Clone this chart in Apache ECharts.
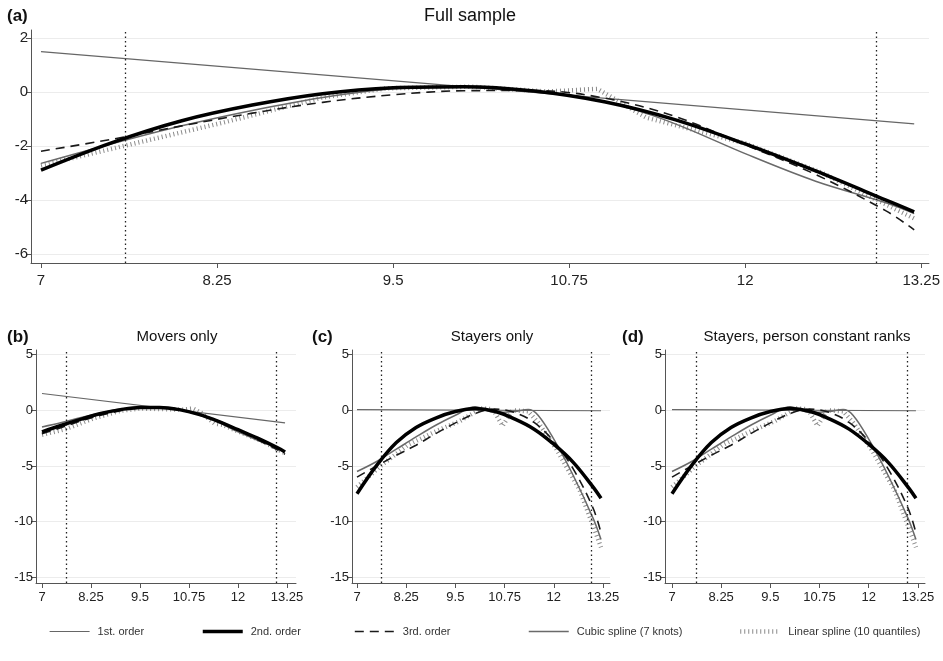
<!DOCTYPE html>
<html>
<head>
<meta charset="utf-8">
<script src="https://cdn.jsdelivr.net/npm/echarts@6/dist/echarts.min.js"></script>
<style>
  html, body { margin: 0; padding: 0; background: #fff; }
  #chart { width: 943px; height: 661px; }
</style>
</head>
<body>
<div id="chart"></div>
<script>
// x grids the curves were read at
var polyX = [7, 7.5, 8, 8.5, 9, 9.5, 10, 10.5, 11, 11.5, 12, 12.5, 13, 13.2];
var splineX = [7, 7.5, 8, 8.5, 9, 9.5, 10, 10.5, 11, 11.35, 11.6, 12, 12.5, 13, 13.2];
var endX = [7, 13.2];

var xTicks = [7, 8.25, 9.5, 10.75, 12, 13.25];
var yTicksTop = [-6, -4, -2, 0, 2];
var yTicksBottom = [-15, -10, -5, 0, 5];

// (a) full sample
var aFirst = [1.5, -1.18];
var aSecond = [-2.89, -1.88, -1.06, -0.48, -0.06, 0.16, 0.20, 0.04, -0.36, -1.02, -1.92, -2.92, -4.0, -4.44];
var aThird = [-2.19, -1.75, -1.25, -0.78, -0.38, -0.10, 0.05, 0.06, -0.22, -0.9, -1.95, -3.05, -4.4, -5.1];
var aCubic = [-2.64, -1.92, -1.25, -0.68, -0.2, 0.12, 0.18, 0.06, -0.35, -0.88, -1.38, -2.28, -3.3, -4.1, -4.5];
var aLinX = [7, 7.6, 8.3, 9.0, 9.45, 10.05, 10.6, 10.95, 11.3, 11.6, 12.0, 12.55, 13.2];
var aLin = [-2.72, -1.98, -1.12, -0.2, 0.14, 0.2, 0.02, 0.12, -0.95, -1.35, -1.9, -3.0, -4.68];
var aCuts = [7.6, 12.93];

// (b) movers only
var bFirst = [1.5, -1.13];
var bSecond = [-1.95, -1.35, -0.8, -0.3, 0.05, 0.25, 0.25, 0.05, -0.38, -1.0, -1.75, -2.5, -3.35, -3.75];
var bThird = [-2.1, -1.55, -0.95, -0.45, -0.05, 0.2, 0.25, 0.08, -0.35, -0.95, -1.75, -2.65, -3.55, -3.95];
var bCubic = [-1.5, -1.1, -0.65, -0.25, 0.1, 0.25, 0.2, 0.05, -0.4, -0.85, -1.25, -1.95, -2.7, -3.4, -3.7];
var bLinX = [7, 7.6, 8.3, 9.0, 9.5, 10.1, 10.6, 10.85, 11.1, 11.4, 11.6, 12.0, 12.6, 13.2];
var bLin = [-2.2, -1.7, -0.75, -0.05, 0.15, 0.1, 0.05, 0.15, -0.3, -1.2, -1.3, -1.9, -2.75, -3.85];
var bCuts = [7.63, 12.98];

// (c) stayers only
var cFirst = [0.05, -0.05];
var cSecond = [-7.49, -4.95, -2.9, -1.55, -0.7, -0.12, 0.15, -0.1, -0.78, -1.7, -3.05, -4.7, -6.9, -7.9];
var cThird = [-6.0, -5.0, -4.04, -3.14, -2.1, -1.14, -0.3, 0.1, -0.2, -1.1, -2.8, -5.3, -8.8, -11.0];
var cCubic = [-5.5, -4.6, -3.5, -2.4, -1.35, -0.45, 0.3, -0.2, -0.12, 0.06, -0.45, -2.6, -5.9, -9.7, -11.6];
var cLinX = [7, 7.6, 8.3, 9.0, 9.6, 10.15, 10.45, 10.7, 10.95, 11.35, 11.6, 12.05, 12.65, 13.2];
var cLin = [-6.9, -5.0, -3.1, -1.9, -1.0, 0.15, 0.1, -1.4, 0.0, -0.1, -1.1, -3.4, -7.1, -12.3];
var cCuts = [7.61, 12.94];

// (d) stayers, person constant ranks (reads the same as (c))
var dFirst = [0.05, -0.05];
var dSecond = [-7.49, -4.95, -2.9, -1.55, -0.7, -0.12, 0.15, -0.1, -0.78, -1.7, -3.05, -4.7, -6.9, -7.9];
var dThird = [-6.0, -5.0, -4.04, -3.14, -2.1, -1.14, -0.3, 0.1, -0.2, -1.1, -2.8, -5.3, -8.8, -11.0];
var dCubic = [-5.5, -4.6, -3.5, -2.4, -1.35, -0.45, 0.3, -0.2, -0.12, 0.06, -0.45, -2.6, -5.9, -9.7, -11.6];
var dLinX = [7, 7.6, 8.3, 9.0, 9.6, 10.15, 10.45, 10.7, 10.95, 11.35, 11.6, 12.05, 12.65, 13.2];
var dLin = [-6.9, -5.0, -3.1, -1.9, -1.0, 0.15, 0.1, -1.4, 0.0, -0.1, -1.1, -3.4, -7.1, -12.3];
var dCuts = [7.61, 12.97];

var names = ['1st. order', '2nd. order', '3rd. order', 'Cubic spline (7 knots)', 'Linear spline (10 quantiles)'];

var font = 'Liberation Sans, Arial, sans-serif';

var panels = [
  { tag: '(a)', title: 'Full sample', grid: {left: 31, top: 30, width: 899, height: 233},
    xMin: 6.929, xMax: 13.305, yMin: -6.33, yMax: 2.3, yTicks: yTicksTop, fs: 15, xMargin: 10,
    tagX: 7, titleX: 470, textY: 16, titleSize: 18,
    first: aFirst, second: aSecond, third: aThird, cubic: aCubic, linX: aLinX, lin: aLin, cuts: aCuts },
  { tag: '(b)', title: 'Movers only', grid: {left: 36, top: 350, width: 260, height: 233},
    xMin: 6.847, xMax: 13.48, yMin: -15.5, yMax: 5.4, yTicks: yTicksBottom, fs: 13, xMargin: 8,
    tagX: 7, titleX: 177, textY: 337, titleSize: 15,
    first: bFirst, second: bSecond, third: bThird, cubic: bCubic, linX: bLinX, lin: bLin, cuts: bCuts },
  { tag: '(c)', title: 'Stayers only', grid: {left: 352, top: 350, width: 258, height: 233},
    xMin: 6.873, xMax: 13.428, yMin: -15.5, yMax: 5.4, yTicks: yTicksBottom, fs: 13, xMargin: 8,
    tagX: 312, titleX: 492, textY: 337, titleSize: 15,
    first: cFirst, second: cSecond, third: cThird, cubic: cCubic, linX: cLinX, lin: cLin, cuts: cCuts },
  { tag: '(d)', title: 'Stayers, person constant ranks', grid: {left: 665, top: 350, width: 260, height: 233},
    xMin: 6.822, xMax: 13.43, yMin: -15.5, yMax: 5.4, yTicks: yTicksBottom, fs: 13, xMargin: 8,
    tagX: 622, titleX: 807, textY: 337, titleSize: 15,
    first: dFirst, second: dSecond, third: dThird, cubic: dCubic, linX: dLinX, lin: dLin, cuts: dCuts }
];

function pairs(xs, ys) {
  return xs.map(function (x, i) { return [x, ys[i]]; });
}

var grids = [], xAxes = [], yAxes = [], series = [], graphics = [];

panels.forEach(function (p, i) {
  grids.push(p.grid);
  xAxes.push({
    type: 'value', gridIndex: i, min: p.xMin, max: p.xMax,
    axisLine: {show: true, onZero: false, lineStyle: {color: '#555'}},
    axisTick: {show: true, length: 5, customValues: xTicks, lineStyle: {color: '#555'}},
    axisLabel: {customValues: xTicks, fontSize: p.fs, color: '#222', fontFamily: font, margin: p.xMargin},
    splitLine: {show: false}
  });
  yAxes.push({
    type: 'value', gridIndex: i, min: p.yMin, max: p.yMax,
    axisLine: {show: true, lineStyle: {color: '#555'}},
    axisTick: {show: true, length: 5, customValues: p.yTicks, lineStyle: {color: '#555'}},
    axisLabel: {customValues: p.yTicks, fontSize: p.fs, color: '#222', fontFamily: font, margin: 3},
    splitLine: {show: true, lineStyle: {color: '#ececec'}}
  });

  var common = {type: 'line', xAxisIndex: i, yAxisIndex: i, symbol: 'none', silent: true, animation: false};

  series.push(Object.assign({}, common, {
    name: names[4], data: pairs(p.linX, p.lin), z: 2,
    itemStyle: {color: '#8a8a8a'},
    lineStyle: {color: '#8a8a8a', width: 4.5, type: [1, 3]},
    markLine: {
      silent: true, symbol: 'none', label: {show: false},
      lineStyle: {color: '#222', type: [1.5, 3], width: 1.3},
      data: p.cuts.map(function (c) { return {xAxis: c}; })
    }
  }));
  series.push(Object.assign({}, common, {
    name: names[0], data: pairs(endX, p.first), z: 3,
    itemStyle: {color: '#666'},
    lineStyle: {color: '#666', width: 1.2}
  }));
  series.push(Object.assign({}, common, {
    name: names[3], data: pairs(splineX, p.cubic), z: 3, smooth: 0.35,
    itemStyle: {color: '#6a6a6a'},
    lineStyle: {color: '#6a6a6a', width: 1.5}
  }));
  series.push(Object.assign({}, common, {
    name: names[2], data: pairs(polyX, p.third), z: 4, smooth: 0.35,
    itemStyle: {color: '#1a1a1a'},
    lineStyle: {color: '#1a1a1a', width: 1.6, type: [9, 6]}
  }));
  series.push(Object.assign({}, common, {
    name: names[1], data: pairs(polyX, p.second), z: 5, smooth: 0.35,
    itemStyle: {color: '#000'},
    lineStyle: {color: '#000', width: 3.5}
  }));

  graphics.push({type: 'text', x: p.tagX, y: p.textY, style: {
    text: p.tag, fontSize: 17, fontWeight: 'bold', fontFamily: font, fill: '#111', align: 'left', verticalAlign: 'middle'}});
  graphics.push({type: 'text', x: p.titleX, y: p.textY, style: {
    text: p.title, fontSize: p.titleSize, fontFamily: font, fill: '#111', align: 'center', verticalAlign: 'middle'}});
});

var legendLeft = [44, 196, 349, 523, 733];
var legends = names.map(function (n, i) {
  return {
    data: [n], left: legendLeft[i], top: 621, itemWidth: 40, itemHeight: 12, selectedMode: false,
    itemStyle: {opacity: 0},
    lineStyle: {width: 'inherit'},
    textStyle: {fontFamily: 'Liberation Sans Narrow, Arial Narrow, sans-serif', fontSize: 11, color: '#333', padding: [0, 0, 0, 3]}
  };
});

var myChart = echarts.init(document.getElementById('chart'));
myChart.setOption({
  backgroundColor: '#fff',
  animation: false,
  grid: grids,
  xAxis: xAxes,
  yAxis: yAxes,
  legend: legends,
  graphic: graphics,
  series: series
});
</script>
</body>
</html>
